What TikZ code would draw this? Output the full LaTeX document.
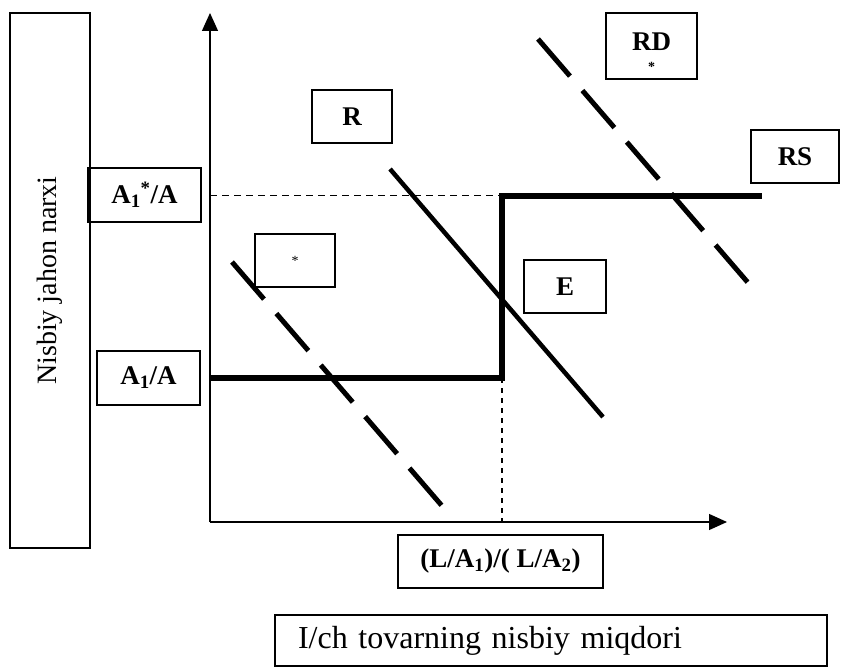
\documentclass[tikz,border=0pt]{standalone}
\usepackage{fontspec}
\setmainfont{Liberation Serif}
\usetikzlibrary{arrows.meta}

\begin{document}
\begin{tikzpicture}[x=1pt,y=-1pt,line width=1.3pt,>={Triangle[length=18pt,width=16pt]}]
    \tikzstyle{tag}=[draw,line width=1.2pt,inner sep=0pt,minimum width=80pt,minimum height=53pt,font=\bfseries\fontsize{27}{30}\selectfont]
    \tikzstyle{plain}=[draw,line width=1.2pt,inner sep=0pt,font=\fontsize{28}{32}\selectfont]
    \tikzstyle{rsline}=[line width=5.5pt]
    \tikzstyle{rline}=[line width=4.5pt]
    \tikzstyle{rdline}=[line width=5pt,dash pattern=on 49pt off 19pt]
    \tikzstyle{guide}=[line width=1pt,dash pattern=on 7pt off 5pt]
    \tikzstyle{drop}=[line width=1.2pt,dash pattern=on 5pt off 5pt]

    \useasboundingbox (0,0) rectangle (841,668);

    \node[plain,rotate=90,minimum width=535pt,minimum height=80pt] (price) at (50,280.5) {Nisbiy jahon narxi};
    \node[tag,minimum width=113pt,minimum height=54pt] (P-2) at (144.5,195) {A\textsubscript{1}\textsuperscript{*}/A};
    \node[tag,minimum width=103pt,minimum height=54pt] (P-1) at (148.5,378) {A\textsubscript{1}/A};
    \node[tag] (R) at (352,116.5) {R};
    \node[tag,font=\fontsize{14}{14}\selectfont] (R-star) at (295,260.5) {*};
    \node[tag,minimum width=91pt,minimum height=66pt,align=center,text height=59pt,text depth=7pt] (RD) at (651.5,46) {RD\\[-9pt]{\fontsize{14}{14}\selectfont *}};
    \node[tag,minimum width=88pt] (RS) at (795,156.5) {RS};
    \node[tag,minimum width=82pt] (E) at (565,286.5) {E};
    \node[tag,minimum width=205pt] (ratio) at (500.5,561.5) {(L/A\textsubscript{1})/( L/A\textsubscript{2})};
    \node[plain,font=\fontsize{32}{36}\selectfont,minimum width=552pt,minimum height=51pt,inner xsep=23pt,text width=506pt,align=left] (qty) at (551,640.5) {I/ch tovarning nisbiy miqdori};

    % axes
    \coordinate (O) at (210,522);
    \coordinate (y-tip) at (210,13);
    \coordinate (x-tip) at (727,522);
    \draw[->] (O) -- (y-tip);
    \draw[->] (O) -- (x-tip);

    % relative supply
    \coordinate (S-1) at (210,378);
    \coordinate (S-2) at (502,378);
    \coordinate (S-3) at (502,196);
    \coordinate (S-4) at (762,196);
    \draw[guide] (O |- S-3) -- (S-3);
    \draw[drop] (S-2) -- (S-2 |- O);
    \draw[rsline] (S-1) -- (S-2) -- (S-3) -- (S-4);

    % relative demand
    \coordinate (R-1) at (390,169);
    \coordinate (R-2) at (603,417);
    \draw[rline] (R-1) -- (R-2);

    \coordinate (D-1) at (538,39);
    \coordinate (D-2) at (750,285);
    \coordinate (D-3) at (232,262);
    \coordinate (D-4) at (443,507);
    \foreach \a/\b in {D-1/D-2,D-3/D-4}
    \draw[rdline] (\a) -- (\b);
  \end{tikzpicture}
\end{document}
